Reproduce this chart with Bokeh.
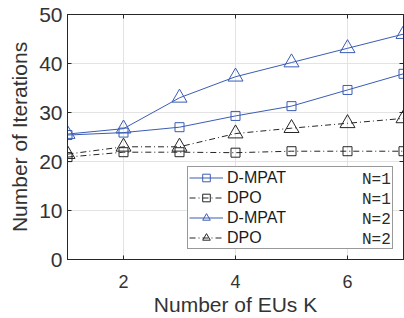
from bokeh.plotting import figure
from bokeh.models import (Range1d, LinearAxis, FixedTicker, Legend, LegendItem)
from bokeh.embed import file_html
from bokeh.resources import INLINE

# ---- data ----
K = [1, 2, 3, 4, 5, 6, 7]
dmpat_n1 = [25.4, 25.9, 27.0, 29.3, 31.3, 34.6, 37.9]
dpo_n1 = [20.9, 21.9, 21.9, 21.8, 22.1, 22.1, 22.1]
dmpat_n2 = [25.6, 26.7, 33.0, 37.3, 40.2, 43.1, 46.0]
dpo_n2 = [21.5, 23.0, 23.0, 25.7, 26.8, 27.8, 28.8]
x_ticks = [2, 4, 6]
y_ticks = [0, 10, 20, 30, 40, 50]
series_names = ["D-MPAT", "DPO", "D-MPAT", "DPO"]
n_labels = ["N=1", "N=1", "N=2", "N=2"]
x_label = "Number of EUs K"
y_label = "Number of Iterations"

# ---- layout ----
W, H = 404, 318
BL, BR, BT, BB = 67, 1, 14, 58

BLUE = "#3a5cb4"
DARK = "#262626"
TXT = "#333333"
SANS = "Liberation Sans"
MONO = "Liberation Mono"

p = figure(width=W, height=H, output_backend="svg", toolbar_location=None,
           x_range=Range1d(1, 7), y_range=Range1d(0, 50),
           min_border_left=BL, min_border_right=BR, min_border_top=BT,
           min_border_bottom=BB)
p.background_fill_color = "white"
p.border_fill_color = "white"
p.outline_line_color = DARK
p.outline_line_width = 1

for ax in [p.xaxis[0], p.yaxis[0]]:
    ax.major_tick_in = 4
    ax.major_tick_out = 0
    ax.minor_tick_in = 0
    ax.minor_tick_out = 0
    ax.axis_line_color = DARK
    ax.major_tick_line_color = DARK
    ax.major_label_text_color = TXT
    ax.major_label_text_font = SANS
    ax.axis_label_text_color = TXT
    ax.axis_label_text_font = SANS
    ax.axis_label_text_font_style = "normal"

p.xaxis.ticker = FixedTicker(ticks=x_ticks)
p.yaxis.ticker = FixedTicker(ticks=y_ticks)
p.xaxis.major_label_text_font_size = "18px"
p.yaxis.major_label_text_font_size = "21px"
p.xaxis.major_label_standoff = 15
p.yaxis.major_label_standoff = 5
p.xaxis.axis_label = x_label
p.yaxis.axis_label = y_label
p.xaxis.axis_label_text_font_size = "21px"
p.yaxis.axis_label_text_font_size = "21px"
p.xaxis.axis_label_standoff = 2
p.yaxis.axis_label_standoff = 5

top = LinearAxis(ticker=FixedTicker(ticks=x_ticks), major_tick_in=4, major_tick_out=0,
                 minor_tick_in=0, minor_tick_out=0,
                 major_label_overrides={t: "" for t in x_ticks},
                 major_label_standoff=0, axis_line_color=DARK, major_tick_line_color=DARK)
p.add_layout(top, "above")
right = LinearAxis(ticker=FixedTicker(ticks=y_ticks), major_tick_in=4, major_tick_out=0,
                   minor_tick_in=0, minor_tick_out=0,
                   major_label_overrides={t: "" for t in y_ticks},
                   major_label_standoff=0, axis_line_color=DARK, major_tick_line_color=DARK)
p.add_layout(right, "right")

p.xgrid.grid_line_color = "#e3e3e3"
p.ygrid.grid_line_color = "#e3e3e3"

# ---- series ----
styles = [
    (dmpat_n1, BLUE, "solid", "square", 9),
    (dpo_n1, DARK, "6 3 1 3", "square", 9),
    (dmpat_n2, BLUE, "solid", "triangle", 15),
    (dpo_n2, DARK, "6 3 1 3", "triangle", 15),
]
items, items_n = [], []
for (vals, col, dash, mk, sz), name, nl in zip(styles, series_names, n_labels):
    lr = p.line(K, vals, line_color=col, line_width=1, line_dash=dash)
    sr = p.scatter(K, vals, marker=mk, size=sz, line_color=col, line_width=1,
                   fill_color=None)
    items.append(LegendItem(label=name, renderers=[lr, sr]))
    items_n.append(LegendItem(label=nl, renderers=[lr]))

legend = Legend(items=items, location=(120, 10), orientation="vertical",
                padding=1, spacing=1, glyph_width=34, glyph_height=19,
                label_height=19, label_standoff=4, label_width=164,
                margin=0, border_line_color="#333333", border_line_width=1,
                background_fill_color="white", background_fill_alpha=1,
                label_text_font=SANS, label_text_font_size="16px",
                label_text_color="#1a1a1a")
p.add_layout(legend, "center")

# right-hand "N=..." column of the legend, in a monospace face
legend_n = Legend(items=items_n, location=(295, 10), orientation="vertical",
                  padding=1, spacing=1, glyph_width=0, glyph_height=19,
                  label_height=19, label_standoff=0, margin=0,
                  border_line_color=None, background_fill_alpha=0,
                  label_text_font=MONO, label_text_font_size="16px",
                  label_text_color="#2a2a2a")
p.add_layout(legend_n, "center")

open("out.html", "w").write(file_html(p, INLINE))
